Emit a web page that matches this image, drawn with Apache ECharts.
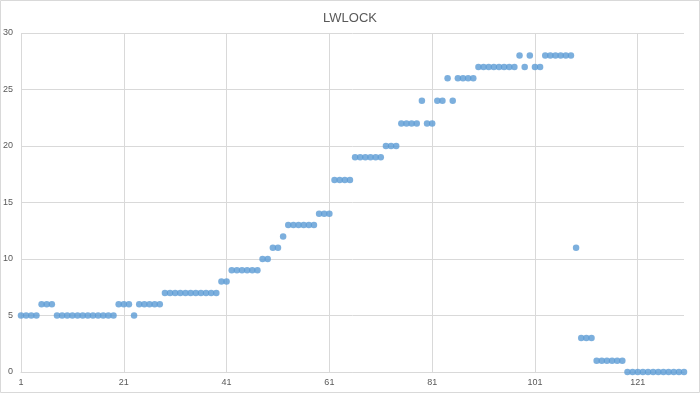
<!DOCTYPE html>
<html>
<head>
<meta charset="utf-8">
<script src="https://cdn.jsdelivr.net/npm/echarts@6/dist/echarts.min.js"></script>
<style>
html,body{margin:0;padding:0;background:#fff;}
#c{width:700px;height:393px;}
</style>
</head>
<body>
<div id="c"></div>
<script>
const title = "LWLOCK";
const categories = [];
for (let i = 1; i <= 130; i++) categories.push(String(i));
const values = [
  5,5,5,5, 6,6,6,
  5,5,5,5,5,5,5,5,5,5,5,5,
  6,6,6, 5, 6,6,6,6,6,
  7,7,7,7,7,7,7,7,7,7,7,
  8,8, 9,9,9,9,9,9, 10,10, 11,11, 12,
  13,13,13,13,13,13, 14,14,14,
  17,17,17,17, 19,19,19,19,19,19, 20,20,20,
  22,22,22,22, 24, 22,22, 24,24, 26, 24, 26,26,26,26,
  27,27,27,27,27,27,27,27, 28, 27, 28, 27,27,
  28,28,28,28,28,28, 11, 3,3,3,
  1,1,1,1,1,1,
  0,0,0,0,0,0,0,0,0,0,0,0
];
const yTicks = {min: 0, max: 30, interval: 5};

const chart = echarts.init(document.getElementById('c'), null, {renderer: 'canvas'});
chart.setOption({
  animation: false,
  title: {
    text: title, left: 'center', top: 7,
    textStyle: {fontFamily: 'Liberation Sans', fontSize: 13, fontWeight: 'normal', color: '#595959'}
  },
  graphic: [{
    type: 'rect', silent: true, z: -1,
    shape: {x: 0.5, y: 0.5, width: 699, height: 392},
    style: {fill: null, stroke: '#d9d9d9', lineWidth: 1}
  }],
  grid: {left: 21, right: 16, top: 33, bottom: 21, containLabel: false},
  xAxis: {
    type: 'category', data: categories, boundaryGap: false,
    axisLine: {show: true, lineStyle: {color: '#d9d9d9', width: 1}},
    axisTick: {show: false},
    axisLabel: {interval: 19, color: '#595959', fontSize: 9, fontFamily: 'Liberation Sans', margin: 6},
    splitLine: {show: true, interval: 19, lineStyle: {color: '#d9d9d9', width: 1}}
  },
  yAxis: {
    type: 'value', min: yTicks.min, max: yTicks.max, interval: yTicks.interval,
    axisLine: {show: false}, axisTick: {show: false},
    axisLabel: {color: '#595959', fontSize: 9, fontFamily: 'Liberation Sans', margin: 8},
    splitLine: {lineStyle: {color: '#d9d9d9', width: 1}}
  },
  series: [{
    type: 'scatter', data: values, symbol: 'circle', symbolSize: 6.5,
    itemStyle: {color: '#5b9bd5'}
  }]
});
</script>
</body>
</html>
